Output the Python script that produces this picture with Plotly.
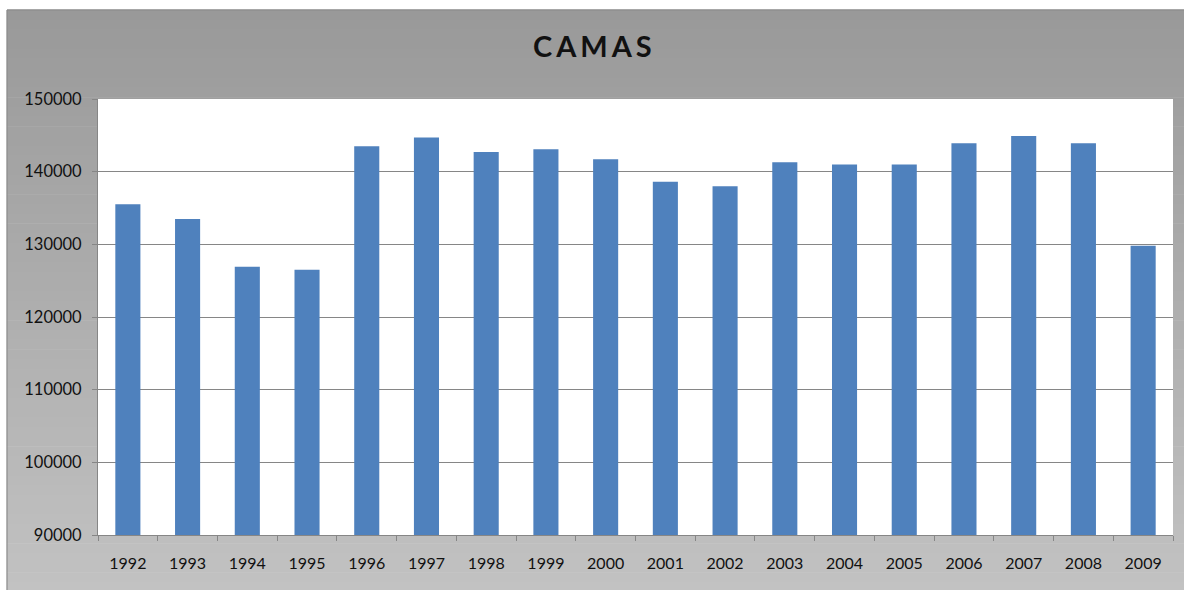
import plotly.graph_objects as go

years = ["1992", "1993", "1994", "1995", "1996", "1997", "1998", "1999", "2000",
         "2001", "2002", "2003", "2004", "2005", "2006", "2007", "2008", "2009"]
camas = [135500, 133500, 126900, 126500, 143500, 144700, 142700, 143100, 141700,
         138600, 138000, 141300, 141000, 141000, 143900, 144900, 143900, 129800]
y_ticks = [90000, 100000, 110000, 120000, 130000, 140000, 150000]
title_text = "CAMAS"

W, H = 1184, 590
L, T, R, B = 98, 98.7, 11.3, 54.7
pw, ph = W - L - R, H - T - B

def px_to_paper_x(px):
    return (px - L) / pw

def px_to_paper_y(py):
    return (H - B - py) / ph

fig = go.Figure()
fig.add_trace(go.Bar(x=years, y=camas, marker=dict(color="#4f81bd", line=dict(width=0)),
                     hoverinfo="x+y"))

shapes = []
# gradient background strips
n = 60
top_px, bot_px = 9.5, 592
c0, c1 = 153, 194
for i in range(n):
    y0p = top_px + (bot_px - top_px) * i / n
    y1p = top_px + (bot_px - top_px) * (i + 1) / n + 0.6
    c = round(c0 + (c1 - c0) * (i + 0.5) / n)
    col = f"rgb({c},{c},{c})"
    shapes.append(dict(type="rect", xref="paper", yref="paper", layer="below",
                       x0=px_to_paper_x(7), x1=px_to_paper_x(W + 5),
                       y0=px_to_paper_y(y1p), y1=px_to_paper_y(y0p),
                       fillcolor=col, line=dict(width=0)))
# outer border lines (left & top)
shapes.append(dict(type="line", xref="paper", yref="paper", layer="below",
                   x0=px_to_paper_x(7), x1=px_to_paper_x(7),
                   y0=px_to_paper_y(9.5), y1=px_to_paper_y(H + 5),
                   line=dict(color="#8a8a8a", width=1.2)))
shapes.append(dict(type="line", xref="paper", yref="paper", layer="below",
                   x0=px_to_paper_x(7), x1=px_to_paper_x(W + 5),
                   y0=px_to_paper_y(9.5), y1=px_to_paper_y(9.5),
                   line=dict(color="#8a8a8a", width=1.2)))
# white plot area
shapes.append(dict(type="rect", xref="x domain", yref="y domain", layer="below",
                   x0=0, x1=1, y0=0, y1=1, fillcolor="white", line=dict(width=0)))

fig.update_layout(
    width=W, height=H,
    margin=dict(l=L, r=R, t=T, b=B, pad=0),
    paper_bgcolor="white",
    plot_bgcolor="white",
    showlegend=False,
    bargap=0.58,
    shapes=shapes,
    font=dict(family="Lato, 'Open Sans', sans-serif", size=16, color="#111111"),
    annotations=[dict(text=f"<b><span style='letter-spacing:4px'>{title_text}</span></b>",
                      xref="paper", yref="paper",
                      x=px_to_paper_x(594.5), y=px_to_paper_y(45),
                      xanchor="center", yanchor="middle", showarrow=False,
                      font=dict(family="Lato, 'Open Sans', sans-serif", size=29, color="#111111"))],
)
fig.update_xaxes(
    type="category", showgrid=False, showline=True, linecolor="#868686", linewidth=1,
    ticks="outside", ticklen=5, tickcolor="#868686", tickson="boundaries",
    ticklabelstandoff=14, tickfont=dict(size=16, family="Lato, 'Open Sans', sans-serif"),
)
fig.update_yaxes(
    range=[90000, 150000], tickvals=y_ticks, ticktext=[str(v) for v in y_ticks],
    showgrid=True, gridcolor="#868686", gridwidth=1, showline=True, linecolor="#868686",
    linewidth=1, ticks="outside", ticklen=5, tickcolor="#868686", zeroline=False,
    ticklabelstandoff=7, tickfont=dict(size=16.5, family="Lato, 'Open Sans', sans-serif"),
)

fig.write_html("out.html", config={"displayModeBar": False},
               post_script="document.body.style.margin='0';")
